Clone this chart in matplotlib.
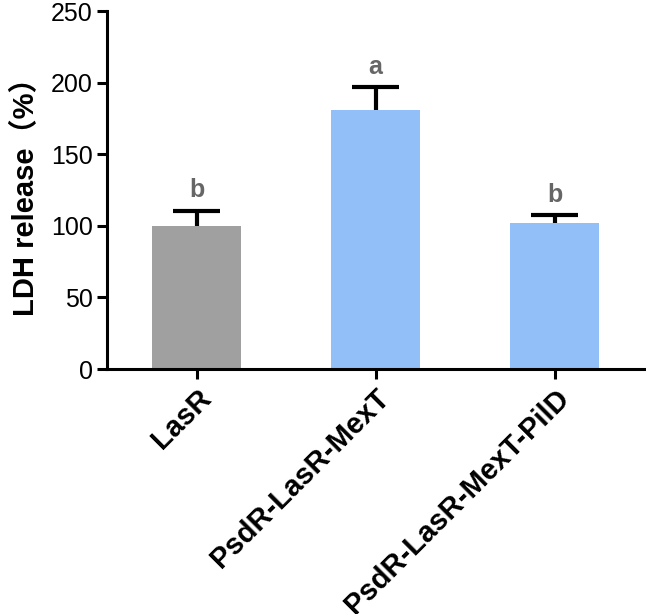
import matplotlib.pyplot as plt

plt.rcParams['font.family'] = ['Liberation Sans', 'Noto Sans CJK SC', 'DejaVu Sans']

groups = ["LasR", "PsdR-LasR-MexT", "PsdR-LasR-MexT-PilD"]
means = [100, 181, 102]
errors = [10.5, 16, 5.5]
letters = ["b", "a", "b"]
colors = ["#a0a0a0", "#93bff8", "#93bff8"]

fig = plt.figure(figsize=(6.46, 6.14), dpi=100)
ax = fig.add_axes([0.166, 0.399, 0.831, 0.583])

x = list(range(len(groups)))
ax.bar(x, means, width=0.5, color=colors, zorder=2)

# upper error bars only
tops = [m + e for m, e in zip(means, errors)]
ax.vlines(x, means, tops, color="black", linewidth=3, zorder=1)
ax.hlines(tops, [xi - 0.13 for xi in x], [xi + 0.13 for xi in x],
          color="black", linewidth=3, zorder=1)

for xi, t, lab in zip(x, tops, letters):
    ax.annotate(lab, (xi, t), xytext=(0, 6), textcoords="offset points",
                ha="center", va="bottom", fontsize=18, fontweight="bold",
                color="#666666")

ax.set_xlim(-0.5, 2.5)
ax.set_ylim(0, 250)
ax.set_yticks([0, 50, 100, 150, 200, 250])
ax.set_xticks(x)
ax.set_xticklabels(groups, rotation=45, ha="right", rotation_mode="anchor",
                   fontsize=21, fontweight="bold")
ax.tick_params(axis="y", labelsize=18, width=2.2, length=7)
ax.tick_params(axis="x", width=2.2, length=7)
ax.set_ylabel("LDH release（%）", fontsize=21, fontweight="bold", labelpad=8)

for s in ["top", "right"]:
    ax.spines[s].set_visible(False)
for s in ["left", "bottom"]:
    ax.spines[s].set_linewidth(2.2)

fig.savefig("out.png", dpi=100)
